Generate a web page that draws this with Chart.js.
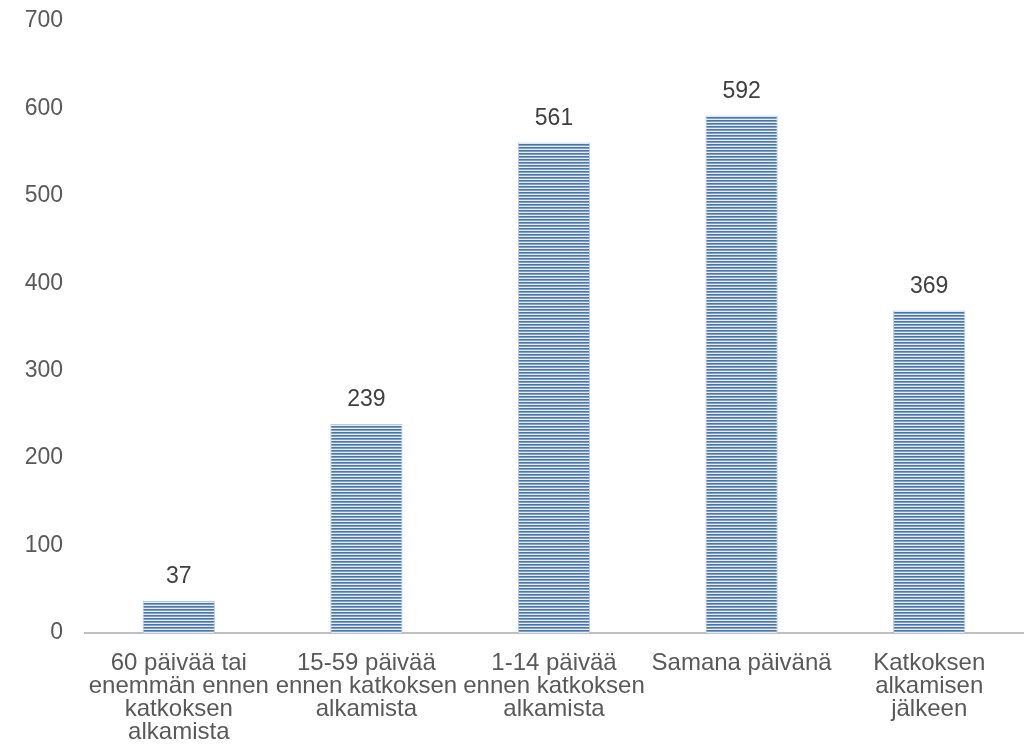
<!DOCTYPE html>
<html>
<head>
<meta charset="utf-8">
<script src="https://cdn.jsdelivr.net/npm/chart.js@4"></script>
<style>
  html, body { margin: 0; padding: 0; background: #fff; }
  #wrap { width: 1026px; height: 753px; position: relative; }
</style>
</head>
<body>
<div id="wrap"><canvas id="c"></canvas></div>
<script>
const categories = [
  ['60 päivää tai', 'enemmän ennen', 'katkoksen', 'alkamista'],
  ['15-59 päivää', 'ennen katkoksen', 'alkamista'],
  ['1-14 päivää', 'ennen katkoksen', 'alkamista'],
  ['Samana päivänä'],
  ['Katkoksen', 'alkamisen', 'jälkeen'],
];
const values = [37, 239, 561, 592, 369];
const yTicks = [0, 100, 200, 300, 400, 500, 600, 700];

const FONT = '"Liberation Sans", Arial, sans-serif';

// striped fill like the original
function stripes() {
  const p = document.createElement('canvas');
  p.width = 4; p.height = 3;
  const g = p.getContext('2d');
  g.fillStyle = '#4a76a8'; g.fillRect(0, 0, 4, 1);
  g.fillStyle = '#7d9ec5'; g.fillRect(0, 1, 4, 1);
  g.fillStyle = '#e6edf6'; g.fillRect(0, 2, 4, 1);
  return g.createPattern(p, 'repeat');
}

const ctx = document.getElementById('c').getContext('2d');

const valueLabels = {
  id: 'valueLabels',
  afterDatasetsDraw(chart) {
    const meta = chart.getDatasetMeta(0);
    const c = chart.ctx;
    c.save();
    c.font = '23px ' + FONT;
    c.fillStyle = '#404040';
    c.textAlign = 'center';
    c.textBaseline = 'middle';
    meta.data.forEach((bar, i) => {
      c.fillText(String(values[i]), bar.x, bar.y - 24);
    });
    c.restore();
  },
};

new Chart(ctx, {
  type: 'bar',
  data: {
    labels: categories,
    datasets: [{
      data: values,
      backgroundColor: stripes(),
      borderColor: 'rgba(170,195,225,0.9)',
      borderWidth: 1,
      categoryPercentage: 1,
      barPercentage: 0.385,
    }],
  },
  options: {
    responsive: true, maintainAspectRatio: false, animation: false,
    layout: { padding: { top: 21, right: 3, left: 0, bottom: 0 } },
    scales: {
      x: {
        grid: { display: false, drawTicks: false },
        border: { display: true, color: '#c0c0c0', width: 2 },
        ticks: {
          color: '#595959', padding: 19, maxRotation: 0, autoSkip: false,
          font: { family: FONT, size: 24, lineHeight: '23px' },
        },
        afterFit(s) { s.height = 120; s.paddingLeft = 0; s.paddingRight = 0; },
      },
      y: {
        min: 0, max: 700,
        grid: { display: false, drawTicks: false },
        border: { display: false },
        afterBuildTicks(s) { s.ticks = yTicks.map(v => ({ value: v })); },
        ticks: {
          color: '#595959', padding: 22,
          font: { family: FONT, size: 23, lineHeight: 1 },
        },
        afterFit(s) { s.width = 85; s.paddingTop = 0; s.paddingBottom = 0; },
      },
    },
    plugins: { legend: { display: false }, tooltip: { enabled: false } },
  },
  plugins: [valueLabels],
});
</script>
</body>
</html>
